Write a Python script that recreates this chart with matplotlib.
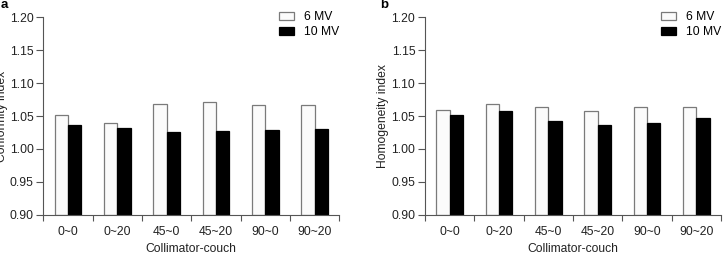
import numpy as np
import matplotlib
matplotlib.use("Agg")
import matplotlib.pyplot as plt
from matplotlib.ticker import MultipleLocator, FixedLocator

plt.rcParams['font.family'] = ['Liberation Sans', 'DejaVu Sans']
plt.rcParams['font.size'] = 8.7

# data
categories = ["0~0", "0~20", "45~0", "45~20", "90~0", "90~20"]
conf_6mv = [1.051, 1.040, 1.068, 1.071, 1.067, 1.066]
conf_10mv = [1.037, 1.032, 1.025, 1.027, 1.029, 1.030]
homo_6mv = [1.059, 1.068, 1.063, 1.057, 1.063, 1.063]
homo_10mv = [1.052, 1.057, 1.042, 1.037, 1.040, 1.047]

fig = plt.figure(figsize=(7.24, 2.54), dpi=100)
ax_a = fig.add_axes([0.0598, 0.1547, 0.4088, 0.7772])
ax_b = fig.add_axes([0.587, 0.1547, 0.4088, 0.7772])

x = np.arange(len(categories))
w = 0.27
grey = "#555555"


def draw(ax, v6, v10, ylabel, letter, letter_x):
    ax.bar(x - w / 2, np.array(v6) - 0.9, w, bottom=0.9, color="#fbfbfb",
           edgecolor="#7a7a7a", linewidth=0.9, label="6 MV")
    ax.bar(x + w / 2, np.array(v10) - 0.9, w, bottom=0.9, color="black",
           edgecolor="black", linewidth=0.9, label="10 MV")
    ax.set_xlim(-0.5, 5.5)
    ax.set_ylim(0.9, 1.2)
    ax.yaxis.set_major_locator(MultipleLocator(0.05))
    ax.set_yticklabels([f"{t:.2f}" for t in ax.get_yticks()])
    ax.set_xticks(x)
    ax.set_xticklabels(categories)
    ax.xaxis.set_minor_locator(FixedLocator(np.arange(-0.5, 6, 1)))
    ax.tick_params(axis="x", which="major", length=0, pad=8, colors="#222222")
    ax.tick_params(axis="x", which="minor", length=4, width=0.8, color=grey)
    ax.tick_params(axis="y", length=5, width=0.8, pad=2, color=grey,
                   labelcolor="#222222")
    for s in ("top", "right"):
        ax.spines[s].set_visible(False)
    for s in ("left", "bottom"):
        ax.spines[s].set_color(grey)
        ax.spines[s].set_linewidth(0.8)
    ax.set_xlabel("Collimator-couch", color="#222222")
    ax.xaxis.set_label_coords(0.5, -0.143)
    ax.set_ylabel(ylabel, color="#222222")
    ax.yaxis.set_label_coords(-0.12, 0.5)
    ax.legend(loc="upper right", bbox_to_anchor=(1.0, 1.03), frameon=False,
              handlelength=1.25, handleheight=0.68, handletextpad=0.8,
              labelspacing=0.22, borderpad=0, borderaxespad=0)
    ax.text(letter_x, 1.095, letter, transform=ax.transAxes, fontweight="bold",
            fontsize=9.5, va="top", ha="left")


draw(ax_a, conf_6mv, conf_10mv, "Conformity index", "a", -0.145)
draw(ax_b, homo_6mv, homo_10mv, "Homogeneity index", "b", -0.152)

fig.savefig("out.png", dpi=100)
